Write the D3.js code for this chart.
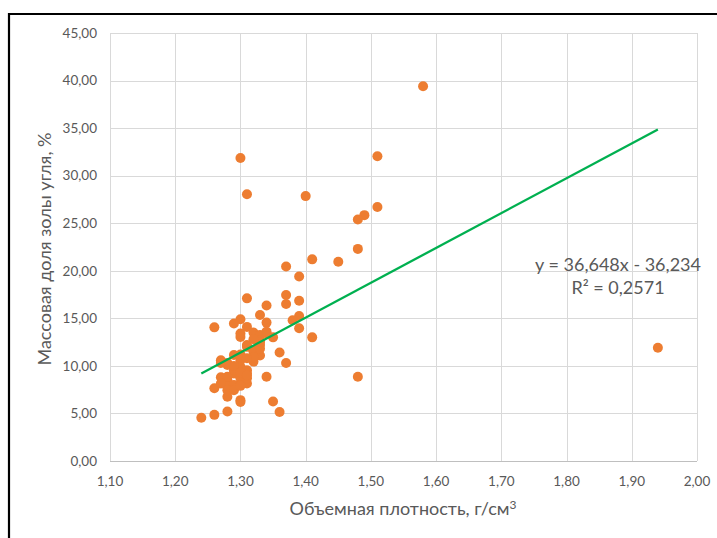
<!DOCTYPE html>
<html>
<head>
<meta charset="utf-8">
<script src="https://cdn.jsdelivr.net/npm/d3@7"></script>
<style>
  body { margin: 0; background: #fff; }
  svg text { font-family: Lato, "Open Sans", sans-serif; fill: #595959; }
</style>
</head>
<body>
<div id="chart"></div>
<script>
// density, g/cm3 and ash content, %
const density = [
    1.58, 1.30, 1.51, 1.31, 1.40, 1.51, 1.49, 1.48, 1.48, 1.41,
    1.45, 1.37, 1.39, 1.37, 1.31, 1.39, 1.37, 1.34, 1.33, 1.39,
    1.38, 1.30, 1.29, 1.26, 1.34, 1.31, 1.39, 1.41, 1.35, 1.32,
    1.30, 1.34, 1.33, 1.31, 1.33, 1.33, 1.32, 1.36, 1.29, 1.27,
    1.37, 1.32, 1.28, 1.30, 1.31, 1.29, 1.30, 1.34, 1.48, 1.27,
    1.28, 1.31, 1.28, 1.26, 1.29, 1.28, 1.30, 1.30, 1.35, 1.28,
    1.36, 1.26, 1.24, 1.94, 1.30, 1.31, 1.32, 1.33, 1.30, 1.28,
    1.27, 1.29, 1.31, 1.28, 1.30, 1.31, 1.27, 1.29, 1.30, 1.28,
    1.29, 1.32, 1.33, 1.30, 1.31, 1.29, 1.30, 1.31, 1.30, 1.33,
    1.32, 1.34
];
const ash = [
    39.40, 31.85, 32.05, 28.05, 27.85, 26.70, 25.85, 25.40, 22.30, 21.20,
    20.95, 20.45, 19.40, 17.45, 17.10, 16.85, 16.50, 16.35, 15.35, 15.25,
    14.80, 14.90, 14.45, 14.05, 14.55, 14.10, 13.95, 13.00, 13.00, 13.50,
    13.05, 13.40, 13.25, 12.20, 12.20, 12.70, 11.50, 11.40, 11.15, 10.60,
    10.30, 10.45, 10.10, 9.90, 9.55, 9.20, 8.85, 8.85, 8.85, 8.80,
    8.50, 8.15, 7.80, 7.65, 7.65, 6.75, 6.40, 6.20, 6.25, 5.20,
    5.15, 4.85, 4.55, 11.90, 13.40, 12.00, 11.70, 11.10, 10.60, 10.30,
    10.30, 9.55, 9.20, 8.85, 8.70, 8.70, 8.15, 8.00, 8.00, 7.45,
    7.45, 10.90, 11.80, 11.20, 10.80, 10.00, 9.30, 9.00, 7.90, 12.50,
    12.80, 13.60
];

// linear trendline as given on the chart
const trendSlope = 36.648;
const trendIntercept = -36.234;
const trendLabel = ['y = 36,648x - 36,234', 'R² = 0,2571'];

const xTicks = [1.10, 1.20, 1.30, 1.40, 1.50, 1.60, 1.70, 1.80, 1.90, 2.00];
const yTicks = [0, 5, 10, 15, 20, 25, 30, 35, 40, 45];

const xTitle = 'Объемная плотность, г/см';
const yTitle = 'Массовая доля золы угля, %';

const W = 717, H = 538;
const plot = { left: 110, right: 697, top: 33, bottom: 461 };

const fmt = d => d3.format('.2f')(d).replace('.', ',');

const svg = d3.select('#chart').append('svg')
    .attr('width', W)
    .attr('height', H);

// outer frame (only top and left are visible in the picture)
svg.append('path')
    .attr('d', `M9,${H} L9,14 L${W},14`)
    .attr('fill', 'none')
    .attr('stroke', '#000')
    .attr('stroke-width', 2.2);

const x = d3.scaleLinear().domain([1.1, 2.0]).range([plot.left, plot.right]);
const y = d3.scaleLinear().domain([0, 45]).range([plot.bottom, plot.top]);

// grid
svg.append('g')
    .selectAll('line.vx')
    .data(xTicks)
    .enter().append('line')
    .attr('x1', d => Math.round(x(d)) + 0.5)
    .attr('x2', d => Math.round(x(d)) + 0.5)
    .attr('y1', plot.top)
    .attr('y2', plot.bottom)
    .attr('stroke', '#d9d9d9');

svg.append('g')
    .selectAll('line.hy')
    .data(yTicks)
    .enter().append('line')
    .attr('x1', plot.left)
    .attr('x2', plot.right)
    .attr('y1', d => Math.round(y(d)) + 0.5)
    .attr('y2', d => Math.round(y(d)) + 0.5)
    .attr('stroke', d => d === 0 ? '#bfbfbf' : '#d9d9d9');

// tick labels
svg.append('g')
    .selectAll('text')
    .data(yTicks)
    .enter().append('text')
    .attr('x', plot.left - 13)
    .attr('y', d => y(d))
    .attr('dy', '0.35em')
    .attr('text-anchor', 'end')
    .style('font-size', '13.5px')
    .text(fmt);

svg.append('g')
    .selectAll('text')
    .data(xTicks)
    .enter().append('text')
    .attr('x', d => x(d))
    .attr('y', plot.bottom + 20)
    .attr('dy', '0.35em')
    .attr('text-anchor', 'middle')
    .style('font-size', '13.5px')
    .text(fmt);

// axis titles
const xt = svg.append('text')
    .attr('x', 403)
    .attr('y', 509)
    .attr('dy', '0.35em')
    .attr('text-anchor', 'middle')
    .style('font-size', '18px');
xt.append('tspan').text(xTitle);
xt.append('tspan')
    .attr('dy', '-0.55em')
    .style('font-size', '12px')
    .text('3');

svg.append('text')
    .attr('transform', `translate(45, ${(plot.top + plot.bottom) / 2 + 2}) rotate(-90)`)
    .attr('dy', '0.35em')
    .attr('text-anchor', 'middle')
    .style('font-size', '18px')
    .text(yTitle);

// points
const points = density.map((d, i) => ({ x: d, y: ash[i] }));

svg.append('g')
    .selectAll('circle')
    .data(points)
    .enter().append('circle')
    .attr('cx', d => x(d.x))
    .attr('cy', d => y(d.y))
    .attr('r', 5)
    .attr('fill', '#ed7d31');

// trendline over the data range
const xExt = d3.extent(density);
const trend = xExt.map(v => ({ x: v, y: trendSlope * v + trendIntercept }));

svg.append('path')
    .datum(trend)
    .attr('fill', 'none')
    .attr('stroke', '#00b050')
    .attr('stroke-width', 2.3)
    .attr('d', d3.line().x(d => x(d.x)).y(d => y(d.y)));

svg.append('g')
    .selectAll('text')
    .data(trendLabel)
    .enter().append('text')
    .attr('x', 618)
    .attr('y', (d, i) => 265 + i * 23)
    .attr('dy', '0.35em')
    .attr('text-anchor', 'middle')
    .style('font-size', '18px')
    .text(d => d);
</script>
</body>
</html>
